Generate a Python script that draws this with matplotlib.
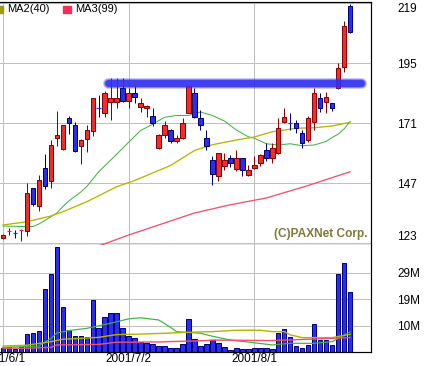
import matplotlib
matplotlib.use('Agg')
import matplotlib.pyplot as plt
import numpy as np

plt.rcParams['font.family'] = ['Liberation Sans', 'DejaVu Sans']

# daily candles, 2001/6/1 .. (index = trading day)
opens = [124.9, 127.6, 127.0, 128.0, 128.0, 144.9, 137.9, 152.9, 147.9, 164.9,
         160.6, 172.9, 170.2, 161.9, 164.6, 167.9, 177.1, 174.9, 179.5, 179.5,
         184.9, 179.8, 182.9, 177.5, 176.9, 173.8, 160.9, 166.2, 168.2, 163.9,
         164.9, 175.1, 182.9, 172.9, 164.9, 156.2, 149.8, 153.9, 156.9, 152.6,
         156.9, 150.1, 152.9, 154.9, 160.2, 156.9, 158.9, 171.5, 171.0, 170.9,
         166.9, 164.2, 171.5, 180.9, 179.5, 178.9, 184.9, 193.5, 217.8]
highs = [126.5, 128.9, 128.2, 128.6, 146.9, 145.2, 150.2, 158.6, 164.2, 175.8,
         170.4, 173.8, 171.5, 164.5, 170.2, 181.0, 182.2, 183.9, 188.9, 188.9,
         188.9, 184.9, 185.8, 180.9, 178.2, 176.9, 166.5, 171.9, 168.5, 166.2,
         172.9, 186.0, 184.9, 176.2, 168.2, 157.8, 159.0, 158.9, 158.2, 160.2,
         157.2, 154.2, 157.8, 158.5, 162.9, 162.9, 172.9, 176.9, 174.9, 172.2,
         168.2, 174.0, 184.9, 182.9, 183.5, 179.2, 194.9, 211.9, 218.6]
lows = [124.7, 126.2, 124.9, 123.9, 125.9, 137.8, 135.9, 144.6, 144.9, 161.8,
        160.4, 166.6, 159.5, 154.6, 159.5, 165.9, 173.5, 173.5, 172.2, 176.9,
        179.5, 176.9, 178.9, 175.5, 173.5, 169.8, 160.5, 165.0, 162.9, 162.9,
        164.5, 175.0, 173.0, 168.2, 160.2, 146.2, 147.9, 152.2, 153.5, 152.0,
        149.8, 149.9, 152.5, 153.9, 155.9, 154.9, 158.5, 170.9, 168.2, 167.1,
        160.9, 163.5, 168.2, 175.5, 174.9, 175.8, 184.5, 191.5, 206.9]
closes = [126.2, 127.9, 126.8, 128.3, 142.9, 138.6, 148.2, 145.9, 162.2, 166.2,
          170.2, 170.9, 160.0, 164.2, 168.2, 180.9, 176.8, 183.1, 180.9, 180.9,
          179.8, 182.9, 181.5, 178.9, 177.8, 170.9, 166.2, 170.2, 163.9, 164.9,
          170.9, 185.8, 173.5, 170.2, 161.8, 150.6, 158.9, 156.2, 154.9, 156.9,
          152.2, 152.2, 154.2, 158.2, 156.9, 160.9, 168.9, 173.5, 170.8, 168.9,
          162.9, 172.9, 182.9, 176.9, 181.5, 176.9, 192.9, 209.8, 207.5]
# volume in millions
volumes = [1.5, 1.8, 1.2, 2.0, 6.6, 6.9, 7.7, 23.2, 28.7, 38.7,
           16.6, 8.1, 5.9, 5.9, 5.5, 19.2, 9.0, 12.9, 14.4, 14.4,
           8.8, 5.9, 5.0, 3.6, 3.2, 2.9, 2.2, 2.2, 1.5, 1.5,
           2.9, 12.2, 4.8, 2.2, 2.9, 4.5, 3.2, 1.8, 0.9, 1.5,
           1.1, 1.1, 1.5, 1.5, 1.5, 1.1, 7.0, 8.4, 5.5, 2.2,
           1.5, 2.6, 10.2, 4.5, 4.5, 2.6, 28.7, 32.8, 22.1]

# moving averages
ma1_idx = [0, 3, 5, 6, 7, 8, 9, 10, 11, 12, 13, 14, 16, 19, 21, 23, 25, 27, 29, 31,
           33, 35, 37, 39, 41, 42, 44, 46, 48, 50, 52, 54, 55, 56, 57, 58]
ma1_val = [129.8, 129.6, 129.6, 130.6, 132.0, 133.5, 135.0, 137.6, 139.8, 141.6,
           143.4, 145.6, 151.5, 158.5, 163.3, 168.0, 170.5, 173.3, 174.0, 174.0,
           175.4, 174.0, 171.8, 168.2, 165.5, 164.9, 162.7, 162.2, 162.7, 161.9,
           162.2, 163.6, 165.2, 166.5, 168.6, 171.6]
ma2_idx = [0, 4, 8, 10, 14, 19, 22, 25, 28, 32, 35, 39, 42, 45, 49, 52, 55, 58]
ma2_val = [130.2, 131.5, 133.8, 135.5, 139.5, 145.5, 148.0, 151.0, 154.0, 160.0,
           162.3, 164.2, 165.4, 167.5, 168.9, 169.1, 169.8, 171.3]
ma3_idx = [16, 21, 27, 32, 38, 44, 51, 58]
ma3_val = [121.8, 126.2, 131.0, 135.0, 138.3, 141.0, 146.0, 151.5]

vma1_idx = [0, 6, 8, 9, 11, 14, 18, 21, 23, 26, 28, 29, 33, 35, 38, 42, 45, 48, 52, 55, 58]
vma1_val = [1.7, 2.2, 5.0, 7.0, 7.9, 8.7, 10.6, 12.2, 12.6, 11.8, 9.1, 7.5, 6.9, 5.8,
            4.4, 3.4, 2.6, 3.2, 3.2, 3.8, 7.4]
vma2_idx = [0, 4, 8, 10, 13, 16, 19, 23, 27, 33, 35, 39, 43, 45, 47, 48, 50, 53, 55, 58]
vma2_val = [2.2, 2.5, 3.8, 4.7, 5.0, 5.4, 6.4, 6.6, 6.9, 7.4, 7.5, 8.0, 8.0, 7.5, 7.5,
            6.3, 5.3, 5.3, 5.3, 6.5]
vma3_idx = [0, 4, 8, 9, 16, 19, 26, 34, 35, 45, 51, 58]
vma3_val = [1.4, 1.4, 1.7, 2.6, 2.8, 3.6, 3.7, 4.2, 4.4, 4.2, 4.7, 5.3]

band_level = 187.0
band_start, band_end = 17.5, 59.8

date_idx = [0, 21, 42]
date_labels = ['2001/6/1', '2001/7/2', '2001/8/1']
price_ticks = [219, 195, 171, 147, 123]
vol_ticks = [9.7, 19.4, 29.1]
vol_labels = ['10M', '19M', '29M']

red_fill, red_edge = '#f02c2c', '#8b0000'
blue_fill, blue_edge = '#2c2cf0', '#00007b'
grid_c = '#c0c0c0'
px = 72 / 100.0

fig = plt.figure(figsize=(4.26, 3.66), dpi=100)
ax = fig.add_axes([0, 121 / 366, 371 / 426, 243 / 366])
vax = fig.add_axes([0, 14 / 366, 371 / 426, 107 / 366])

for a in (ax, vax):
    a.set_xlim(-0.5, 61.5)
    a.set_xticks(date_idx)
    a.grid(True, color=grid_c, lw=1 * px)
    a.set_axisbelow(True)
    a.spines['left'].set_visible(False)
    for s in ('top', 'right', 'bottom'):
        a.spines[s].set_linewidth(1.2 * px)
    a.yaxis.tick_right()
    a.tick_params(length=0, labelsize=8.5, pad=19)
    a.set_facecolor('white')

ax.set_ylim(122.2, 219.4)
ax.set_yticks(price_ticks)
ax.set_yticklabels([str(t) for t in price_ticks])
labs = ax.get_yticklabels()
labs[0].set_va('top')
labs[-1].set_va('bottom')
ax.tick_params(axis='x', labelbottom=False)

vax.set_ylim(0, 39.4)
vax.set_yticks(vol_ticks)
vax.set_yticklabels(vol_labels)
vax.spines['top'].set_visible(False)
vax.tick_params(axis='x', pad=1)
vax.set_xticklabels(date_labels)

# candles
w = 0.75
for i in range(len(opens)):
    o, h, l, c = opens[i], highs[i], lows[i], closes[i]
    up = c >= o
    fc, ec = (red_fill, red_edge) if up else (blue_fill, blue_edge)
    ax.vlines(i, l, h, color=ec, lw=1 * px, zorder=3)
    if abs(c - o) < 0.5:
        ax.hlines((o + c) / 2, i - w / 2, i + w / 2, color=fc, lw=1.2 * px, zorder=4)
    else:
        ax.bar(i, abs(c - o), bottom=min(o, c), width=w, color=fc,
               edgecolor=ec, linewidth=1 * px, zorder=4)

ax.plot(ma1_idx, ma1_val, color='#3cb43c', lw=1 * px, zorder=2)
ax.plot(ma2_idx, ma2_val, color='#b4b400', lw=1.3 * px, zorder=2)
ax.plot(ma3_idx, ma3_val, color='#f0506e', lw=1.3 * px, zorder=2)

# highlighted resistance band
for lw, al in ((11, 0.25), (9, 0.45), (7, 0.8)):
    ax.plot([band_start, band_end], [band_level, band_level], color='#3030f0',
            lw=lw * px, alpha=al, solid_capstyle='round', zorder=5)

ax.text(60.9, 124.0, '(C)PAXNet Corp.', ha='right', va='bottom',
        fontsize=8.6, fontweight='bold', color='#7b7b3a', zorder=6)

# legend (first entry is cut off at the left edge)
ax.add_patch(plt.Rectangle((-0.9, 215.2), 0.85, 2.4, color='#9a9a18',
                           clip_on=False, zorder=6))
ax.text(0.7, 216.4, 'MA2(40)', fontsize=8, va='center', ha='left', zorder=6)
ax.add_patch(plt.Rectangle((10.0, 215.2), 1.35, 2.4, color='#f0325a', zorder=6))
ax.text(12.1, 216.4, 'MA3(99)', fontsize=8, va='center', ha='left', zorder=6)

# volume
vax.bar(range(len(volumes)), volumes, width=w, color=blue_fill,
        edgecolor=blue_edge, linewidth=1 * px, zorder=2)
vax.plot(vma1_idx, vma1_val, color='#3cb43c', lw=1.2 * px, zorder=3)
vax.plot(vma2_idx, vma2_val, color='#b4b400', lw=1.4 * px, zorder=3)
vax.plot(vma3_idx, vma3_val, color='#f0506e', lw=1.4 * px, zorder=3)

fig.savefig('out.png', dpi=100)
